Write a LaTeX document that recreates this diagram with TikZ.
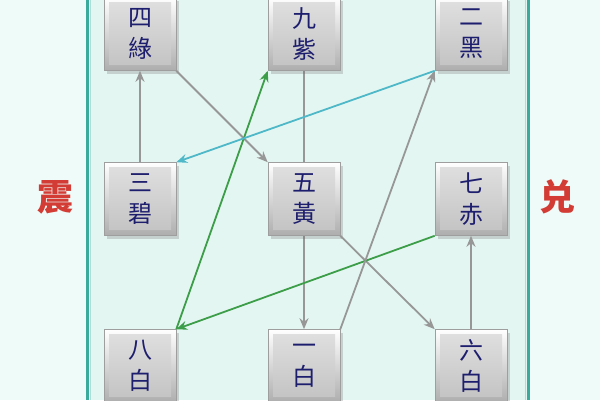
\documentclass[tikz,border=0pt]{standalone}
\usepackage{fontspec}
\newfontfamily\cjk{Noto Sans CJK SC}
\usetikzlibrary{arrows.meta,shadows}
\definecolor{outerbg}{HTML}{EFFBF9}
\definecolor{panelbg}{HTML}{E4F6F2}
\definecolor{tealline}{HTML}{3AAA9C}
\definecolor{navytext}{HTML}{1E1E6E}
\definecolor{grayarrow}{HTML}{979797}
\definecolor{greenarrow}{HTML}{3C9E48}
\definecolor{cyanarrow}{HTML}{4EB8C8}
\definecolor{redlabel}{HTML}{D23C34}
\pgfdeclarelayer{bg}
\pgfsetlayers{bg,main}
\tikzset{
  starbox/.style={rectangle, minimum width=72pt, minimum height=73pt, inner sep=0pt,
    top color=white, bottom color=black!32, draw=black!38, line width=0.6pt,
    drop shadow={shadow xshift=3pt, shadow yshift=-3pt, opacity=0.25, fill=black!60},
    path picture={\shade[top color=black!12, bottom color=black!24]
      ([shift={(5,5)}]path picture bounding box.north west) rectangle
      ([shift={(-5,-6)}]path picture bounding box.south east);},
    font=\cjk\fontsize{24}{31}\selectfont, text=navytext, align=center},
  flowarrow/.style={line width=1.8pt, -{Stealth[length=11pt,width=9pt]}},
  grayflow/.style={flowarrow, draw=grayarrow},
  greenflow/.style={flowarrow, draw=greenarrow},
  cyanflow/.style={flowarrow, draw=cyanarrow},
  sidelabel/.style={font=\cjk\bfseries\fontsize{36}{40}\selectfont, text=redlabel}
}
\begin{document}
\begin{tikzpicture}[x=1pt,y=-1pt]
\useasboundingbox (0,0) rectangle (600,400);
\begin{pgfonlayer}{bg}
  \fill[outerbg] (0,0) rectangle (600,400);
  \fill[panelbg] (86,0) rectangle (530,400);
  \draw[tealline, line width=3pt] (87.5,0) -- (87.5,400);
  \draw[tealline!40, line width=1.5pt] (90.5,0) -- (90.5,400);
  \draw[tealline, line width=3pt] (528.5,0) -- (528.5,400);
  \draw[tealline!40, line width=1.5pt] (525.5,0) -- (525.5,400);
\end{pgfonlayer}

\node[starbox] (n4) at (140,34) {四\\綠};
\node[starbox] (n9) at (304,34) {九\\紫};
\node[starbox] (n2) at (471,34) {二\\黑};
\node[starbox] (n3) at (140,199) {三\\碧};
\node[starbox] (n5) at (304,199) {五\\黃};
\node[starbox] (n7) at (471,199) {七\\赤};
\node[starbox] (n8) at (140,366) {八\\白};
\node[starbox] (n1) at (304,366) {一\\白};
\node[starbox] (n6) at (471,366) {六\\白};

\node[sidelabel] (zhen) at (55,197) {震};
\node[sidelabel] (dui) at (557,197) {兑};

\begin{pgfonlayer}{bg}
  \draw[grayflow] (n9.south) -- (n1.north);
\end{pgfonlayer}
\draw[grayflow] (n3.north) -- (n4.south);
\draw[grayflow] (n4.south east) -- (n5.north west);
\draw[grayflow] (n5.south east) -- (n6.north west);
\draw[grayflow] (n6.north) -- (n7.south);
\draw[greenflow] (n7.south west) -- (n8.north east);
\draw[greenflow] (n8.north east) -- (n9.south west);
\draw[grayflow] (n1.north east) -- (n2.south west);
\draw[cyanflow] (n2.south west) -- (n3.north east);
\end{tikzpicture}
\end{document}
